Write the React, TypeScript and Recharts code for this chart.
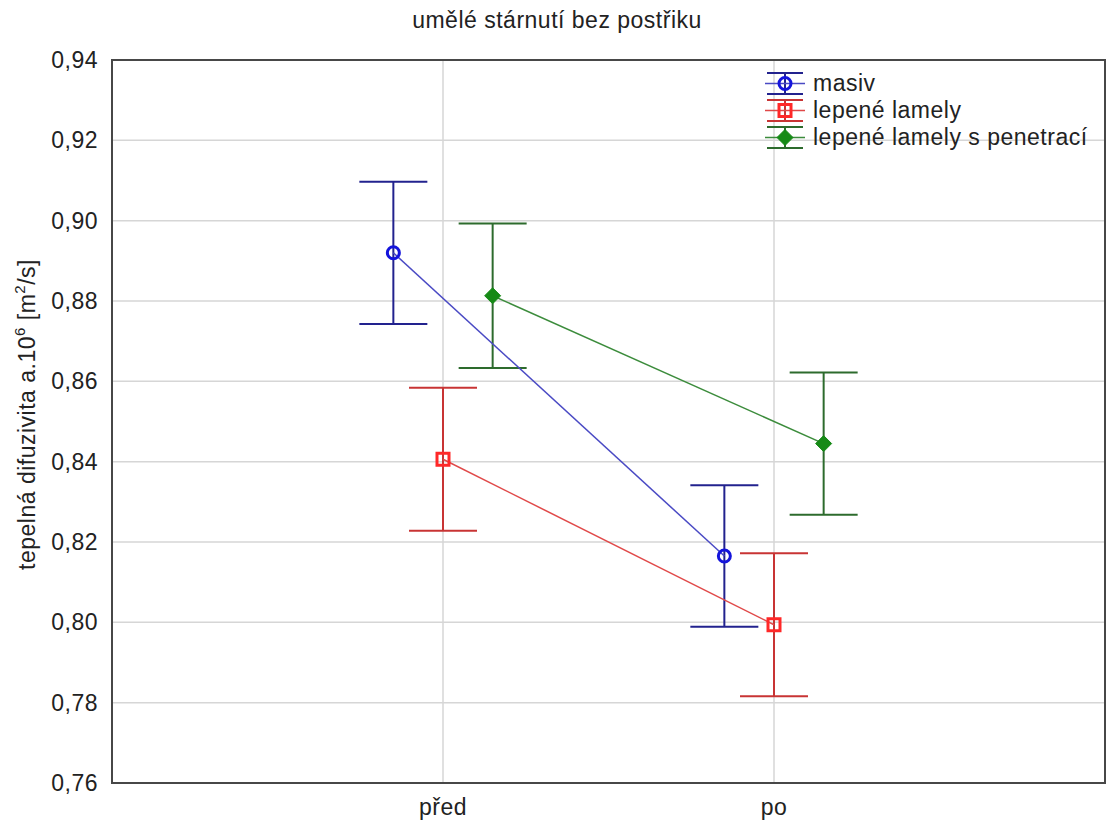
import {
  ComposedChart,
  Scatter,
  ErrorBar,
  XAxis,
  YAxis,
  CartesianGrid,
  ReferenceArea,
} from 'recharts';

const categories = ['před', 'po'];
const yTicks = [0.76, 0.78, 0.8, 0.82, 0.84, 0.86, 0.88, 0.9, 0.92, 0.94];

const masivMean = [0.892, 0.8165];
const masivErr = [0.0177, 0.0176];
const lamelyMean = [0.8406, 0.7994];
const lamelyErr = [0.0178, 0.0178];
const penetraceMean = [0.8813, 0.8445];
const penetraceErr = [0.018, 0.0177];

const FONT = '"Liberation Sans", Arial, sans-serif';

const series = [
  { name: 'masiv', mean: masivMean, err: masivErr, shift: -0.15, shape: 'circle', mark: '#1414dc', bar: '#22228e', line: '#4a4ac4' },
  { name: 'lepené lamely', mean: lamelyMean, err: lamelyErr, shift: 0, shape: 'square', mark: '#ff2828', bar: '#c83434', line: '#e04848' },
  { name: 'lepené lamely s penetrací', mean: penetraceMean, err: penetraceErr, shift: 0.15, shape: 'diamond', mark: '#168a16', bar: '#2d6b2d', line: '#3c8c3c' },
];

const rows = series.map((s) => ({
  ...s,
  data: categories.map((c, i) => ({ x: i + 1 + s.shift, y: s.mean[i], err: s.err[i], cat: c })),
}));

function Marker({ cx, cy, kind, color }: any) {
  if (cx == null || cy == null) return null;
  if (kind === 'circle') return <circle cx={cx} cy={cy} r={6} fill="none" stroke={color} strokeWidth={3} />;
  if (kind === 'square')
    return <rect x={cx - 6} y={cy - 6} width={12} height={12} fill="none" stroke={color} strokeWidth={3} />;
  return (
    <path
      d={`M${cx},${cy - 8} L${cx + 8},${cy} L${cx},${cy + 8} L${cx - 8},${cy} Z`}
      fill={color}
      stroke={color}
      strokeWidth={1}
    />
  );
}

function LegendBox() {
  return (
    <div
      style={{
        position: 'absolute',
        top: 70,
        left: 765,
        fontFamily: FONT,
        fontSize: 23,
        letterSpacing: 0.5,
        color: '#222',
      }}
    >
      {rows.map((s) => (
        <div key={s.name} style={{ display: 'flex', alignItems: 'center', height: 27 }}>
          <svg width={40} height={27} style={{ marginRight: 8 }}>
            <line x1={2} x2={38} y1={3} y2={3} stroke={s.bar} strokeWidth={2} />
            <line x1={2} x2={38} y1={24} y2={24} stroke={s.bar} strokeWidth={2} />
            <line x1={20} x2={20} y1={3} y2={24} stroke={s.bar} strokeWidth={2} />
            <line x1={0} x2={40} y1={13.5} y2={13.5} stroke={s.line} strokeWidth={1.5} />
            <Marker cx={20} cy={13.5} kind={s.shape} color={s.mark} />
          </svg>
          <span>{s.name}</span>
        </div>
      ))}
    </div>
  );
}

function YLabel({ viewBox }: any) {
  const cx = 27;
  const cy = viewBox.y + viewBox.height / 2 - 7;
  return (
    <text
      x={cx}
      y={cy}
      transform={`rotate(-90, ${cx}, ${cy})`}
      textAnchor="middle"
      fontFamily={FONT}
      fontSize={23}
      letterSpacing={0.5}
      fill="#222"
      dominantBaseline="central"
    >
      <tspan>tepelná difuzivita a.10</tspan>
      <tspan dy={-8} fontSize={15}>6</tspan>
      <tspan dy={8}> [m</tspan>
      <tspan dy={-8} fontSize={15}>2</tspan>
      <tspan dy={8}>/s]</tspan>
    </text>
  );
}

export default function App() {
  const tickStyle = { fontFamily: FONT, fontSize: 23, fill: '#222', letterSpacing: 0.5 };
  return (
    <div style={{ position: 'absolute', left: 0, top: 0, width: 1107, height: 822, background: '#fff' }}>
      <div
        style={{
          position: 'absolute',
          top: 9,
          left: 0,
          width: 1114,
          textAlign: 'center',
          fontFamily: FONT,
          fontSize: 23,
          lineHeight: '23px',
          letterSpacing: 0.5,
          color: '#222',
        }}
      >
        umělé stárnutí bez postřiku
      </div>
      <ComposedChart width={1107} height={822} margin={{ top: 60, right: 2, left: 0, bottom: 0 }}>
        <CartesianGrid stroke="#d6d6d6" strokeWidth={1.5} />
        <XAxis
          type="number"
          dataKey="x"
          domain={[0, 3]}
          ticks={[1, 2]}
          tickFormatter={(v: number) => categories[v - 1]}
          height={39}
          axisLine={false}
          tickLine={false}
          tickSize={0}
          tickMargin={16}
          tick={tickStyle}
        />
        <YAxis
          type="number"
          dataKey="y"
          domain={[0.76, 0.94]}
          ticks={yTicks}
          width={112}
          axisLine={false}
          tickLine={false}
          tickSize={0}
          tickMargin={14}
          tick={tickStyle}
          tickFormatter={(v: number) => v.toFixed(2).replace('.', ',')}
          label={<YLabel />}
        />
        <ReferenceArea x1={0} x2={3} y1={0.76} y2={0.94} fill="none" stroke="#474747" strokeWidth={2} ifOverflow="visible" />
        {rows.map((s) => (
          <Scatter
            key={s.name}
            name={s.name}
            data={s.data}
            isAnimationActive={false}
            line={{ stroke: s.line, strokeWidth: 1.5 }}
            shape={(p: any) => <Marker cx={p.cx} cy={p.cy} kind={s.shape} color={s.mark} />}
          >
            <ErrorBar dataKey="err" direction="y" width={34} stroke={s.bar} strokeWidth={2} />
          </Scatter>
        ))}
      </ComposedChart>
      <LegendBox />
    </div>
  );
}
